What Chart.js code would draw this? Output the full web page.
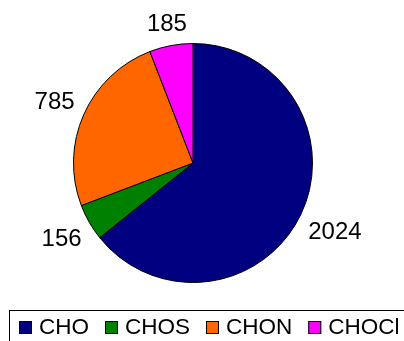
<!DOCTYPE html>
<html>
<head>
<meta charset="utf-8">
<script src="https://cdn.jsdelivr.net/npm/chart.js@4/dist/chart.umd.min.js"></script>
<style>
  html, body { margin: 0; padding: 0; background: #fff; }
  #chart { display: block; }
</style>
</head>
<body>
<canvas id="chart" width="404" height="341"></canvas>
<script>
const categories = ['CHO', 'CHOS', 'CHON', 'CHOCl'];
const counts = [2024, 156, 785, 185];
const sliceColors = ['#000080', '#008000', '#FF6600', '#FF00FF'];

const FONT = 'Arial, "Liberation Sans", sans-serif';

// value labels sitting just outside each slice
const outerLabels = {
    id: 'outerLabels',
    afterDatasetsDraw(chart) {
        const ctx = chart.ctx;
        const meta = chart.getDatasetMeta(0);
        ctx.save();
        ctx.font = '24px ' + FONT;
        ctx.fillStyle = '#000';
        ctx.textAlign = 'center';
        ctx.textBaseline = 'middle';
        meta.data.forEach((arc, i) => {
            const p = arc.getProps(['x', 'y', 'startAngle', 'endAngle', 'outerRadius'], true);
            const mid = (p.startAngle + p.endAngle) / 2;
            const text = String(chart.data.datasets[0].data[i]);
            const w = ctx.measureText(text).width;
            const h = 18;
            const cos = Math.cos(mid), sin = Math.sin(mid);
            const dist = p.outerRadius + 10 + (Math.abs(cos) * w + Math.abs(sin) * h) / 2;
            ctx.fillText(text, p.x + cos * dist, p.y + sin * dist + 1);
        });
        ctx.restore();
    }
};

// boxed legend along the bottom edge
const boxLegend = {
    id: 'boxLegend',
    afterDraw(chart) {
        const ctx = chart.ctx;
        const ds = chart.data.datasets[0];
        ctx.save();
        ctx.strokeStyle = '#000';
        ctx.lineWidth = 1;
        ctx.strokeRect(9.5, 310.5, chart.width, 60);
        ctx.font = '22.5px ' + FONT;
        ctx.textBaseline = 'middle';
        ctx.textAlign = 'left';
        let x = 19;
        chart.data.labels.forEach((label, i) => {
            ctx.fillStyle = ds.backgroundColor[i];
            ctx.fillRect(x, 321, 13, 13);
            ctx.strokeRect(x + 0.5, 321.5, 12, 12);
            ctx.fillStyle = '#000';
            ctx.fillText(label, x + 20, 328);
            x += 20 + ctx.measureText(label).width + 16;
        });
        ctx.restore();
    }
};

new Chart(document.getElementById('chart'), {
    type: 'pie',
    data: {
        labels: categories,
        datasets: [{
            data: counts,
            backgroundColor: sliceColors,
            borderColor: '#000',
            borderWidth: 1
        }]
    },
    options: {
        responsive: false,
        animation: false,
        layout: { padding: { left: 73, right: 91, top: 43, bottom: 58 } },
        plugins: {
            legend: { display: false },
            tooltip: { enabled: false }
        }
    },
    plugins: [outerLabels, boxLegend]
});
</script>
</body>
</html>
